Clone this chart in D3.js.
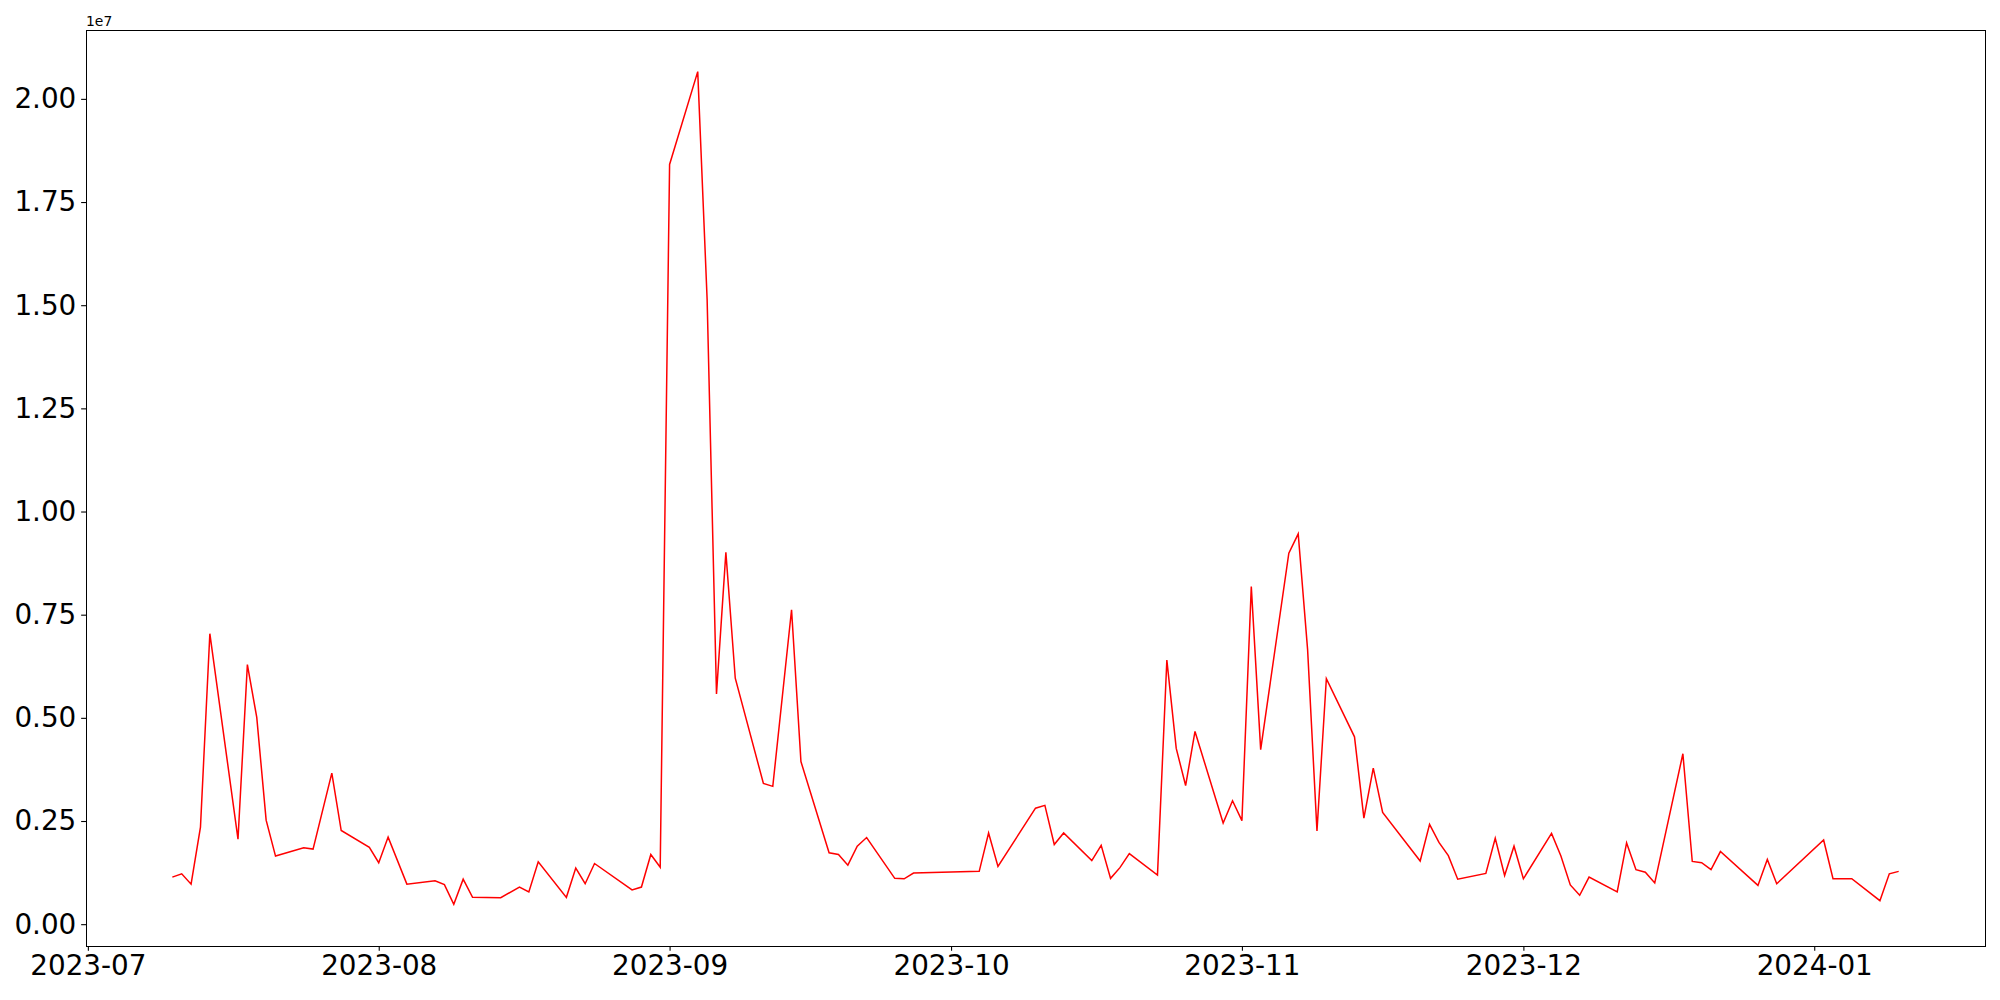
<!DOCTYPE html>
<html>
<head>
<meta charset="utf-8">
<script src="https://cdn.jsdelivr.net/npm/d3@7"></script>
<style>
  body { margin: 0; background: #fff; }
  text { font-family: "DejaVu Sans", sans-serif; }
</style>
</head>
<body>
<div id="chart-area"></div>
<script>
// daily values
var dates = [
  "2023-07-10","2023-07-11","2023-07-12","2023-07-13","2023-07-14",
  "2023-07-17","2023-07-18","2023-07-19","2023-07-20","2023-07-21",
  "2023-07-24","2023-07-25","2023-07-27","2023-07-28",
  "2023-07-31","2023-08-01","2023-08-02","2023-08-04",
  "2023-08-07","2023-08-08","2023-08-09","2023-08-10","2023-08-11",
  "2023-08-14","2023-08-16","2023-08-17","2023-08-18",
  "2023-08-21","2023-08-22","2023-08-23","2023-08-24",
  "2023-08-28","2023-08-29","2023-08-30","2023-08-31","2023-09-01",
  "2023-09-04","2023-09-05","2023-09-06","2023-09-07","2023-09-08",
  "2023-09-11","2023-09-12","2023-09-14","2023-09-15",
  "2023-09-18","2023-09-19","2023-09-20","2023-09-21","2023-09-22",
  "2023-09-25","2023-09-26","2023-09-27",
  "2023-10-04","2023-10-05","2023-10-06",
  "2023-10-10","2023-10-11","2023-10-12","2023-10-13",
  "2023-10-16","2023-10-17","2023-10-18","2023-10-19","2023-10-20",
  "2023-10-23","2023-10-24","2023-10-25","2023-10-26","2023-10-27",
  "2023-10-30","2023-10-31","2023-11-01","2023-11-02","2023-11-03",
  "2023-11-06","2023-11-07","2023-11-08","2023-11-09","2023-11-10",
  "2023-11-13","2023-11-14","2023-11-15","2023-11-16",
  "2023-11-20","2023-11-21","2023-11-22","2023-11-23","2023-11-24",
  "2023-11-27","2023-11-28","2023-11-29","2023-11-30","2023-12-01",
  "2023-12-04","2023-12-05","2023-12-06","2023-12-07","2023-12-08",
  "2023-12-11","2023-12-12","2023-12-13","2023-12-14","2023-12-15",
  "2023-12-18","2023-12-19","2023-12-20","2023-12-21","2023-12-22",
  "2023-12-26","2023-12-27","2023-12-28",
  "2024-01-02","2024-01-03","2024-01-05",
  "2024-01-08","2024-01-09","2024-01-10"
];
var values = [
  1140000,1220000,970000,2350000,7040000,
  2060000,6290000,5010000,2520000,1650000,
  1850000,1820000,3660000,2270000,
  1860000,1490000,2110000,970000,
  1050000,960000,480000,1090000,650000,
  640000,900000,780000,1510000,
  650000,1360000,980000,1470000,
  830000,900000,1690000,1380000,18410000,
  20660000,15150000,5580000,9010000,5960000,
  3410000,3340000,7620000,3940000,
  1730000,1690000,1430000,1890000,2100000,
  1110000,1100000,1240000,
  1280000,2210000,1400000,
  2810000,2880000,1930000,2210000,
  1540000,1910000,1110000,1370000,1710000,
  1190000,6400000,4260000,3360000,4670000,
  2450000,2990000,2510000,8180000,4230000,
  8990000,9460000,6660000,2260000,5950000,
  4540000,2570000,3780000,2710000,
  1530000,2420000,1980000,1660000,1090000,
  1230000,2080000,1180000,1890000,1100000,
  2200000,1650000,950000,700000,1140000,
  780000,1970000,1320000,1260000,1000000,
  4130000,1520000,1490000,1320000,1760000,
  940000,1570000,980000,
  2040000,1100000,1100000,
  570000,1220000,1280000
];
var yTicks = [0, 2500000, 5000000, 7500000, 10000000, 12500000, 15000000, 17500000, 20000000];

var svg_width = 2000;
var svg_height = 1000;
var margin = {left: 86, top: 30, right: 15, bottom: 54};
var w = svg_width - margin.left - margin.right;
var h = svg_height - margin.top - margin.bottom;
var tickLen = 4.86;
var fontSize = 27.8;

var parse = d3.utcParse("%Y-%m-%d");
var data = dates.map((d, i) => ({date: parse(d), value: values[i]}));

// matplotlib style 5% margins
var xExt = d3.extent(data, d => d.date);
var xPad = (xExt[1] - xExt[0]) * 0.05;
var x = d3.scaleUtc()
    .domain([new Date(+xExt[0] - xPad), new Date(+xExt[1] + xPad)])
    .range([0, w]);

var yExt = d3.extent(data, d => d.value);
var yPad = (yExt[1] - yExt[0]) * 0.05;
var y = d3.scaleLinear()
    .domain([yExt[0] - yPad, yExt[1] + yPad])
    .range([h, 0]);

var svg = d3.select("#chart-area").append("svg")
    .attr("width", svg_width)
    .attr("height", svg_height);

var g = svg.append("g")
    .attr("transform", "translate(" + margin.left + "," + margin.top + ")");

var line = d3.line()
    .x(d => x(d.date))
    .y(d => y(d.value));

g.append("path")
    .datum(data)
    .attr("fill", "none")
    .attr("stroke", "#ff0000")
    .attr("stroke-width", 1.5)
    .attr("stroke-linejoin", "miter")
    .attr("d", line);

var xAxis = g.append("g")
    .attr("transform", "translate(0," + h + ")")
    .call(d3.axisBottom(x)
        .ticks(d3.utcMonth.every(1))
        .tickFormat(d3.utcFormat("%Y-%m"))
        .tickSize(tickLen)
        .tickPadding(tickLen));

var yAxis = g.append("g")
    .call(d3.axisLeft(y)
        .tickValues(yTicks)
        .tickFormat(d => (d / 1e7).toFixed(2))
        .tickSize(tickLen)
        .tickPadding(tickLen));

[xAxis, yAxis].forEach(a => {
    a.select(".domain").remove();
    a.selectAll(".tick line").attr("stroke", "#000").attr("stroke-width", 1.1);
    a.selectAll(".tick text")
        .attr("fill", "#000")
        .style("font-size", fontSize + "px")
        .style("font-family", "'DejaVu Sans', sans-serif");
});

// frame
g.append("rect")
    .attr("x", 0.5).attr("y", 0.5)
    .attr("width", w).attr("height", h)
    .attr("fill", "none")
    .attr("stroke", "#000")
    .attr("stroke-width", 1.1)
    .attr("shape-rendering", "crispEdges");

// offset text
g.append("text")
    .attr("x", 0)
    .attr("y", -4)
    .style("font-size", "13.9px")
    .attr("fill", "#000")
    .text("1e7");
</script>
</body>
</html>
